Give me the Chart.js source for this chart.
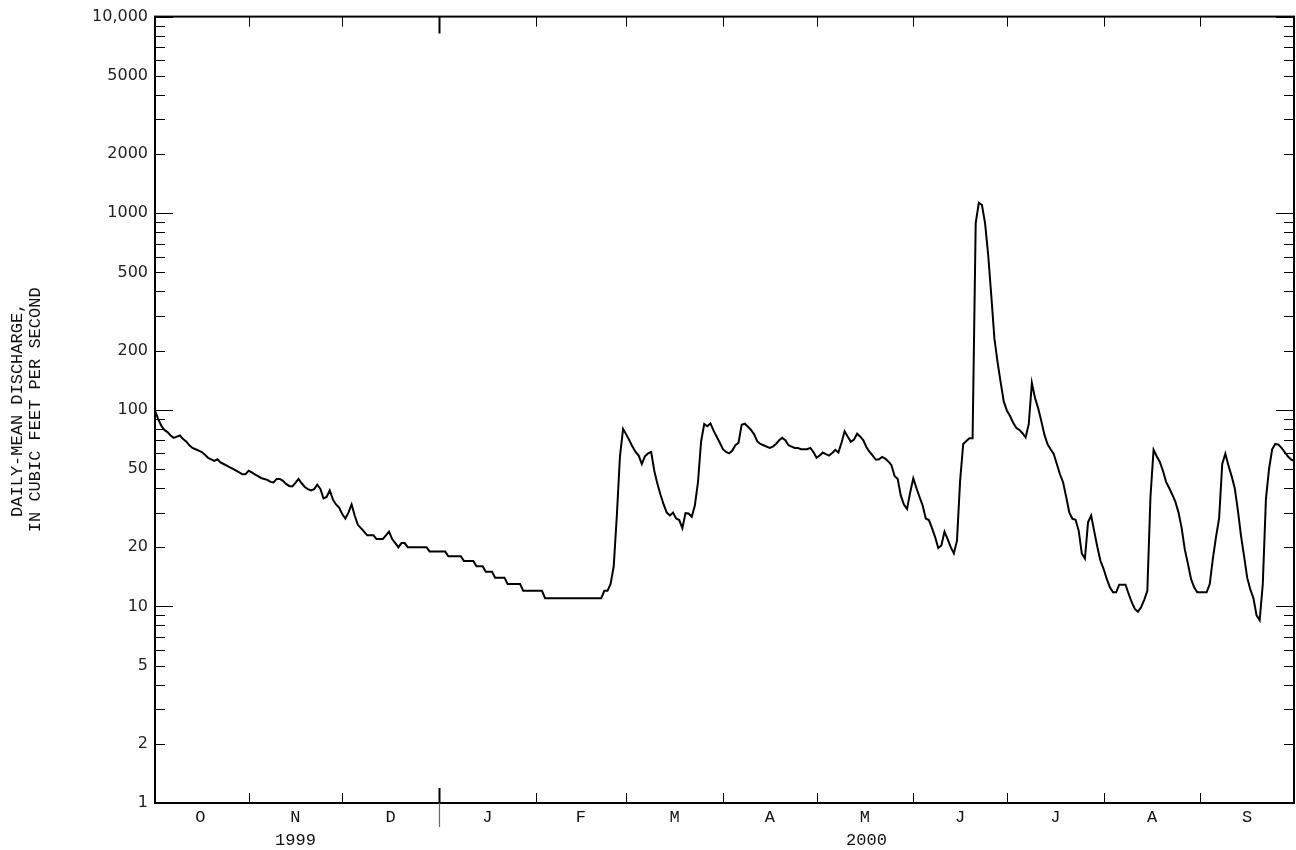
<!DOCTYPE html>
<html>
<head>
<meta charset="utf-8">
<title>Daily-mean discharge, water year 2000</title>
<script src="https://cdn.jsdelivr.net/npm/chart.js@4.4.1/dist/chart.umd.min.js"></script>
<style>
  html, body { margin: 0; padding: 0; background: #fff; }
  #wrap { width: 1296px; height: 850px; }
</style>
</head>
<body>
<div id="wrap"><canvas id="flowChart"></canvas></div>
<script>
// daily mean discharge (cfs), one array per month, Oct 1999 - Sep 2000
const oct = [99, 90, 83, 79, 77, 74, 72, 73, 74, 71, 69, 66, 64, 63, 62, 61, 59, 57, 56, 55,
             56, 54, 53, 52, 51, 50, 49, 48, 47, 47, 49];
const nov = [48, 47, 46, 45, 44.5, 44, 43, 42.7, 44.5, 44.5, 43.5, 42, 41, 40.8, 42.5, 44.5, 42.3, 40.5, 39.5, 38.9,
             39.5, 41.6, 39.6, 35.4, 36, 38.9, 35, 33, 31.8, 29.5];
const dec = [28, 30, 33, 29, 26, 25, 24, 23, 23, 23, 22, 22, 22, 23, 24, 22, 21, 20, 21, 21,
             20, 20, 20, 20, 20, 20, 20, 19, 19, 19, 19];
const jan = [19, 19, 18, 18, 18, 18, 18, 17, 17, 17, 17, 16, 16, 16, 15, 15, 15, 14, 14, 14,
             14, 13, 13, 13, 13, 13, 12, 12, 12, 12, 12];
const feb = [12, 12, 11, 11, 11, 11, 11, 11, 11, 11, 11, 11, 11, 11, 11, 11, 11, 11, 11, 11,
             11, 12, 12, 13, 16, 29, 58, 80, 75];
const mar = [70, 65, 61, 58.5, 53, 58, 60, 61, 49, 42, 37, 33, 30, 29, 30, 28, 27.5, 25, 29.8, 29.7,
             28.6, 32.6, 42.8, 69, 84.6, 82.4, 85.3, 78.3, 73, 68, 63];
const apr = [61, 60, 62, 66, 68, 84, 85, 82, 79, 75, 69, 67, 66, 65, 64, 65, 67, 70, 72, 70,
             66, 65, 64, 64, 63, 63, 63, 64, 61, 57];
const may = [58.5, 60.6, 59.5, 58.5, 60.2, 62.6, 60.7, 68, 77.7, 73, 68.7, 70.5, 75.6, 73, 70, 64.5, 61, 58.4, 55.7, 56,
             57.6, 56.5, 54.6, 52.3, 46.1, 44.5, 36.6, 33, 31.3, 38, 44.8];
const jun = [40, 36, 32.6, 28, 27.5, 25, 22.5, 19.8, 20.4, 24, 22, 20, 18.6, 21.6, 43.5, 67, 69.4, 71.7, 71.7, 890,
             1130, 1100, 890, 613, 380, 230, 175, 138, 110, 99];
const jul = [93, 86, 81, 79, 76, 72.3, 84.6, 137, 115, 102, 88, 75, 67, 63, 59.7, 53, 47, 42.8, 36, 30,
             27.9, 27.6, 24.3, 18.6, 17.5, 26.8, 29, 24, 20, 17, 15.5];
const aug = [13.8, 12.5, 11.8, 11.8, 12.9, 12.9, 12.9, 11.6, 10.5, 9.7, 9.4, 9.9, 10.8, 12, 36, 62.5, 58, 54.3, 49, 43,
             40, 37, 34, 30, 25, 19.5, 16.5, 13.8, 12.5, 11.8, 11.8];
const sep = [11.8, 11.8, 13, 17.5, 22.5, 28, 53, 59.8, 52, 46, 40, 31, 23, 18, 14, 12.2, 11, 9, 8.5, 13,
             35, 50, 63, 67, 66.5, 64, 61, 58, 56, 55];

const monthSeries = [oct, nov, dec, jan, feb, mar, apr, may, jun, jul, aug, sep];
const monthLetters = ['O', 'N', 'D', 'J', 'F', 'M', 'A', 'M', 'J', 'J', 'A', 'S'];
const yearLabels = [{ text: '1999', first: 0, last: 2 }, { text: '2000', first: 3, last: 11 }];
const yLabelled = [1, 2, 5, 10, 20, 50, 100, 200, 500, 1000, 2000, 5000, 10000];

const flow = [].concat(...monthSeries);
const points = flow.map((v, i) => ({ x: i, y: v }));

// day index where each month starts, plus the end
const monthStart = [0];
monthSeries.forEach(m => monthStart.push(monthStart[monthStart.length - 1] + m.length));

const yMinor = [];
for (let e = 0; e < 4; e++) for (let m = 1; m < 10; m++) yMinor.push(m * Math.pow(10, e));
yMinor.push(10000);

const ink = '#111';
const monoFont = "'Liberation Mono', 'DejaVu Sans Mono', monospace";

// each plotted day sits at the end of its slot, so a month edge is the previous day's value
const edge = b => b - 1;

const framePlugin = {
  id: 'hydroFrame',
  afterDraw(chart) {
    const { ctx, chartArea: a, scales: { x, y } } = chart;
    ctx.save();
    ctx.strokeStyle = '#000';
    ctx.lineWidth = 2;
    ctx.strokeRect(a.left, a.top, a.right - a.left, a.bottom - a.top);

    // log ticks on both sides, pointing in
    ctx.lineWidth = 1;
    ctx.beginPath();
    y.ticks.forEach(t => {
      const py = Math.round(y.getPixelForValue(t.value)) + 0.5;
      const major = Math.abs(Math.log10(t.value) % 1) < 1e-9;
      const len = major ? 18 : 10;
      ctx.moveTo(a.left, py); ctx.lineTo(a.left + len, py);
      ctx.moveTo(a.right, py); ctx.lineTo(a.right - len, py);
    });
    ctx.stroke();

    // month ticks top and bottom
    for (let k = 1; k < monthStart.length - 1; k++) {
      const px = Math.round(x.getPixelForValue(edge(monthStart[k]))) + 0.5;
      if (k === 3) {
        ctx.lineWidth = 2;
        ctx.beginPath();
        ctx.moveTo(px, a.bottom - 15); ctx.lineTo(px, a.bottom);
        ctx.moveTo(px, a.top); ctx.lineTo(px, a.top + 17);
        ctx.stroke();
        ctx.lineWidth = 1.2;
        ctx.strokeStyle = '#666';
        ctx.beginPath();
        ctx.moveTo(px, a.bottom); ctx.lineTo(px, a.bottom + 24);
        ctx.stroke();
        ctx.strokeStyle = '#000';
      } else {
        ctx.lineWidth = 1;
        ctx.beginPath();
        ctx.moveTo(px, a.bottom); ctx.lineTo(px, a.bottom - 10);
        ctx.moveTo(px, a.top); ctx.lineTo(px, a.top + 10);
        ctx.stroke();
      }
    }

    ctx.fillStyle = ink;
    ctx.font = '17px ' + monoFont;
    ctx.textAlign = 'center';
    ctx.textBaseline = 'middle';
    monthLetters.forEach((m, k) => {
      const mid = (monthStart[k] + monthStart[k + 1]) / 2;
      ctx.fillText(m, x.getPixelForValue(edge(mid)), a.bottom + 14);
    });
    yearLabels.forEach(yl => {
      const mid = (monthStart[yl.first] + monthStart[yl.last + 1]) / 2;
      ctx.fillText(yl.text, x.getPixelForValue(edge(mid)), a.bottom + 37);
    });
    ctx.restore();
  }
};

new Chart(document.getElementById('flowChart'), {
  type: 'line',
  data: {
    datasets: [{
      data: points,
      borderColor: '#000',
      borderWidth: 2,
      pointRadius: 0,
      tension: 0,
      fill: false
    }]
  },
  options: {
    responsive: true,
    maintainAspectRatio: false,
    animation: false,
    layout: { padding: { top: 15, right: 2, bottom: 0, left: 0 } },
    plugins: { legend: { display: false }, tooltip: { enabled: false } },
    scales: {
      x: {
        type: 'linear',
        min: 0,
        max: flow.length - 1,
        grid: { display: false, drawTicks: false },
        border: { display: false },
        ticks: { display: false },
        afterFit: s => { s.height = 47; }
      },
      y: {
        type: 'logarithmic',
        min: 1,
        max: 10000,
        grid: { display: false, drawTicks: false },
        border: { display: false },
        afterBuildTicks: s => { s.ticks = yMinor.map(v => ({ value: v })); },
        afterFit: s => { s.width = 155; },
        ticks: {
          autoSkip: false,
          padding: 7,
          color: '#222',
          font: { family: "'DejaVu Sans', sans-serif", size: 16 },
          callback: v => yLabelled.includes(v) ? (v === 10000 ? '10,000' : String(v)) : ''
        },
        title: {
          display: true,
          text: ['DAILY-MEAN DISCHARGE,', 'IN CUBIC FEET PER SECOND'],
          color: ink,
          font: { family: monoFont, size: 17, lineHeight: 1.05 },
          padding: { top: 9, bottom: 0 }
        }
      }
    }
  },
  plugins: [framePlugin]
});
</script>
</body>
</html>
